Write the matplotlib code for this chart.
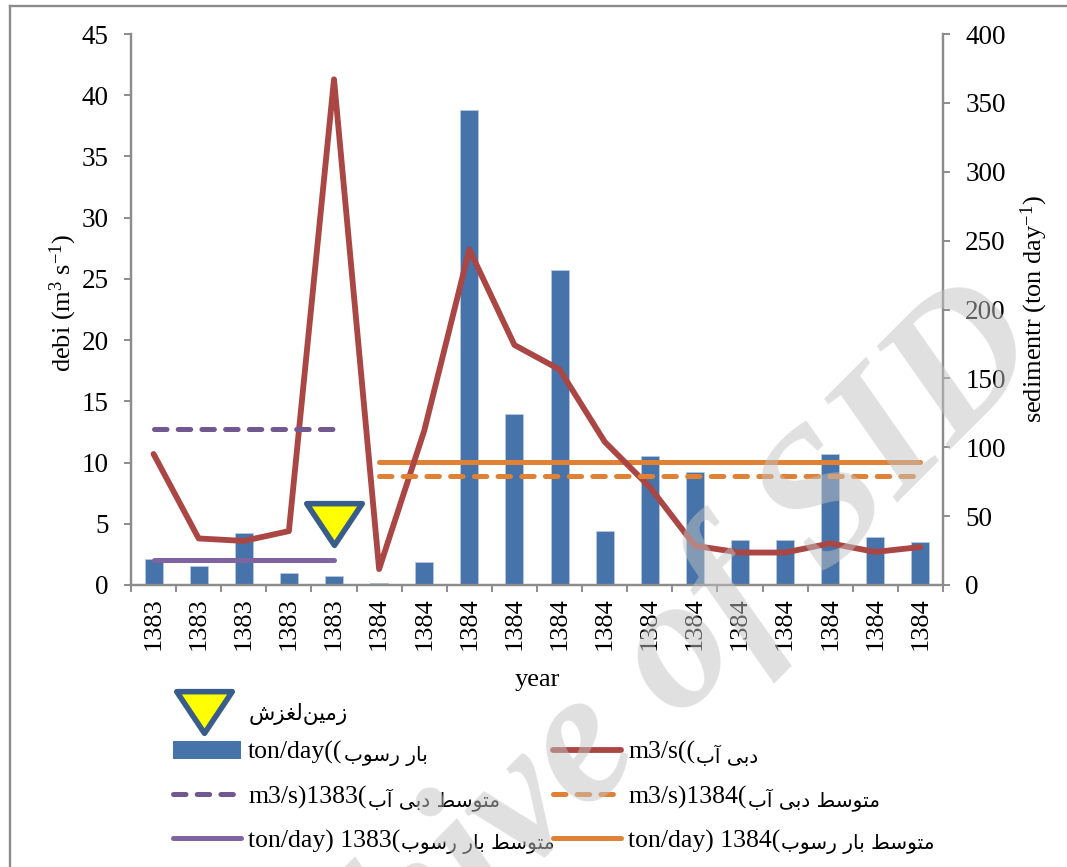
import numpy as np
import matplotlib
matplotlib.use('Agg')
import matplotlib.pyplot as plt
from matplotlib.lines import Line2D
from matplotlib.markers import MarkerStyle
from matplotlib.patches import Patch
from matplotlib.path import Path
from matplotlib.legend_handler import HandlerLine2D

plt.rcParams['font.family'] = ['Liberation Serif', 'DejaVu Sans']
plt.rcParams['mathtext.default'] = 'regular'
plt.rcParams['mathtext.fontset'] = 'stix'

# Datos
years = ['1383'] * 5 + ['1384'] * 13
sediment = [19, 14, 38, 9, 6.8, 1.5, 16.5, 345, 124, 229, 39, 93.4, 82, 32.7, 32.7, 95, 35, 31]
debi = [10.7, 3.8, 3.6, 4.4, 41.3, 1.3, 12.6, 27.4, 19.6, 17.6, 11.7, 8.0, 3.2, 2.65, 2.65, 3.4, 2.7, 3.1]
debi_mean_1383 = [12.75] * 5
debi_mean_1384 = [8.9] * 13
sed_mean_1383 = [18] * 5
sed_mean_1384 = [89] * 13
landslide_x = [4]
landslide_y = [4.95]

# Formas de presentacion: inicial, media, aislada, final
forms = {
    'ز': 'ﺯﺰ', 'ا': 'ﺍﺎ', 'ر': 'ﺭﺮ', 'و': 'ﻭﻮ', 'د': 'ﺩﺪ', 'آ': 'ﺁﺂ',
    'م': 'ﻣﻤﻡﻢ', 'ی': 'ﯾﯿﯼﯽ', 'ن': 'ﻧﻨﻥﻦ', 'ل': 'ﻟﻠﻝﻞ', 'غ': 'ﻏﻐﻍﻎ',
    'ش': 'ﺷﺸﺵﺶ', 'ب': 'ﺑﺒﺏﺐ', 'س': 'ﺳﺴﺱﺲ', 'ت': 'ﺗﺘﺕﺖ', 'ط': 'ﻃﻄﻁﻂ',
}

# matplotlib no une ni invierte el arabe, se hace aqui
def persian(text):
    out = []
    for i, ch in enumerate(text):
        if ch not in forms:
            out.append(ch)
            continue
        prev = text[i - 1] if i > 0 else ' '
        nxt = text[i + 1] if i < len(text) - 1 else ' '
        from_prev = prev in forms and len(forms[prev]) == 4
        to_next = nxt in forms and len(forms[ch]) == 4
        f = forms[ch]
        if len(f) == 2:
            out.append(f[1] if from_prev else f[0])
        elif from_prev and to_next:
            out.append(f[1])
        elif to_next:
            out.append(f[0])
        elif from_prev:
            out.append(f[3])
        else:
            out.append(f[2])
    return ''.join(reversed(out))

W, H = 1067, 867
fig = plt.figure(figsize=(W / 100, H / 100), dpi=100)
ax = fig.add_axes([131 / W, 1 - 585 / H, 812 / W, 551 / H])
ax2 = ax.twinx()
ax.set_zorder(ax2.get_zorder() + 1)
ax.patch.set_visible(False)

x = np.arange(len(years))
blue = '#4673A9'
red = '#AA4643'
purple_d = '#71588F'
purple = '#8064A2'
orange = '#DF8235'
gray = '#8C8C8C'
dash_style = (2.5, 2.24)

ax2.bar(x, sediment, width=0.4, color=blue, edgecolor='#B9CBE0', linewidth=0.5)
ax2.plot(x[:5], sed_mean_1383, color=purple, lw=3.6, solid_capstyle='round')
ax2.plot(x[5:], sed_mean_1384, color=orange, lw=3.6, solid_capstyle='round')
ax.plot(x, debi, color=red, lw=4.2, solid_capstyle='round', solid_joinstyle='round')
ax.plot(x[:5], debi_mean_1383, color=purple_d, lw=3.6, dashes=dash_style, dash_capstyle='round')
ax.plot(x[5:], debi_mean_1384, color=orange, lw=3.6, dashes=dash_style, dash_capstyle='round')

# Triangulo del deslizamiento
tri = MarkerStyle(Path([(-1, 0.75), (1, 0.75), (0, -0.75), (-1, 0.75)], closed=True), joinstyle='round')
tri_style = dict(linestyle='none', marker=tri, ms=40, mfc='#FFFF00', mec='#385D8A', mew=4)
ax.plot(landslide_x, landslide_y, clip_on=False, **tri_style)

ax.set_xlim(-0.5, 17.5)
ax.set_ylim(0, 45)
ax2.set_ylim(0, 400)
ax.set_yticks(np.arange(0, 46, 5))
ax2.set_yticks(np.arange(0, 401, 50))
ax.set_xticks(np.arange(-0.5, 18, 1))
ax.set_xticklabels([])
ax.set_xticks(x, minor=True)
ax.set_xticklabels(years, minor=True, rotation=90, fontsize=19)
ax.tick_params(axis='x', which='minor', length=0, pad=9)
ax.tick_params(axis='x', which='major', length=5, width=1.4, color=gray)
ax.tick_params(axis='y', length=5, width=1.4, color=gray, pad=11, labelsize=19.5)
ax2.tick_params(axis='y', length=5, width=1.4, color=gray, pad=11, labelsize=19.5)
for a in (ax, ax2):
    a.spines['top'].set_visible(False)
    for s in ('left', 'right', 'bottom'):
        a.spines[s].set_color(gray)
        a.spines[s].set_linewidth(1.6)

ax.set_ylabel('debi (m$^{3}$ s$^{-1}$)', fontsize=19)
ax.yaxis.set_label_coords((79 - 131) / 812, (585 - 303) / 551)
ax2.set_ylabel('sedimentr (ton day$^{-1}$)', fontsize=19)
ax2.yaxis.set_label_coords((1019 - 131) / 812, (585 - 309) / 551)
ax.set_xlabel('year', fontsize=19)
ax.xaxis.set_label_coords((537 - 131) / 812, -(669 - 585) / 551)

# Leyendas
def fig_xy(px, py):
    return (px / W, 1 - py / H)

leg_kw = dict(bbox_transform=fig.transFigure, loc='upper left', frameon=False,
              borderpad=0, borderaxespad=0)
col_kw = dict(fontsize=18.5, handlelength=2.65, handletextpad=0.27, labelspacing=0.81, **leg_kw)

tri_handle = Line2D([], [], **tri_style)
leg0 = ax.legend([tri_handle], [persian('لغزش') + persian('زمین')], bbox_to_anchor=fig_xy(170, 703),
                 handler_map={tri_handle: HandlerLine2D(numpoints=1, ypad=1.93)}, fontsize=15.5,
                 handlelength=3.2, handletextpad=0.45, **leg_kw)
ax.add_artist(leg0)

left_handles = [
    Patch(facecolor=blue),
    Line2D([], [], color=purple_d, lw=3.6, dashes=dash_style, dash_capstyle='round'),
    Line2D([], [], color=purple, lw=3.6, solid_capstyle='round'),
]
left_labels = ['ton/day((', 'm3/s)1383(', 'ton/day) 1383(']
left_persian = ['بار رسوب', 'متوسط دبی آب', 'متوسط بار رسوب']
leg1 = ax.legend(left_handles, left_labels, bbox_to_anchor=fig_xy(173, 741), **col_kw)
ax.add_artist(leg1)

right_handles = [
    Line2D([], [], color=red, lw=4.2, solid_capstyle='round'),
    Line2D([], [], color=orange, lw=3.6, dashes=dash_style, dash_capstyle='round'),
    Line2D([], [], color=orange, lw=3.6, solid_capstyle='round'),
]
right_labels = ['m3/s((', 'm3/s)1384(', 'ton/day) 1384(']
right_persian = ['دبی آب', 'متوسط دبی آب', 'متوسط بار رسوب']
leg2 = ax.legend(right_handles, right_labels, bbox_to_anchor=fig_xy(553, 741), **col_kw)

# El texto persa va mas pequeno que el latino, se pone a continuacion
fig.canvas.draw()
renderer = fig.canvas.get_renderer()
for leg, words in ((leg1, left_persian), (leg2, right_persian)):
    for t, word in zip(leg.get_texts(), words):
        box = t.get_window_extent(renderer)
        fig.text((box.x1 + 1) / W, (box.y0 + box.y1) / 2 / H - 3 / H, persian(word), fontsize=14.5,
                 family='DejaVu Sans', va='center', ha='left')

# Marco de la pagina
fig.add_artist(Line2D([10 / W, 10 / W], [0, 1 - 5.5 / H], color=gray, lw=1.7, transform=fig.transFigure))
fig.add_artist(Line2D([10 / W, 1], [1 - 5.5 / H, 1 - 5.5 / H], color=gray, lw=1.7, transform=fig.transFigure))

# Marca de agua
fig.text(1052 / W, 1 - 358 / H, 'Archive of SID', fontsize=137, style='italic', weight='bold', color='#C2C2C2',
         alpha=0.5, rotation=45, rotation_mode='anchor', ha='right', va='baseline', zorder=20,
         family='Liberation Serif', clip_on=True)

plt.savefig('out.png', dpi=100)
